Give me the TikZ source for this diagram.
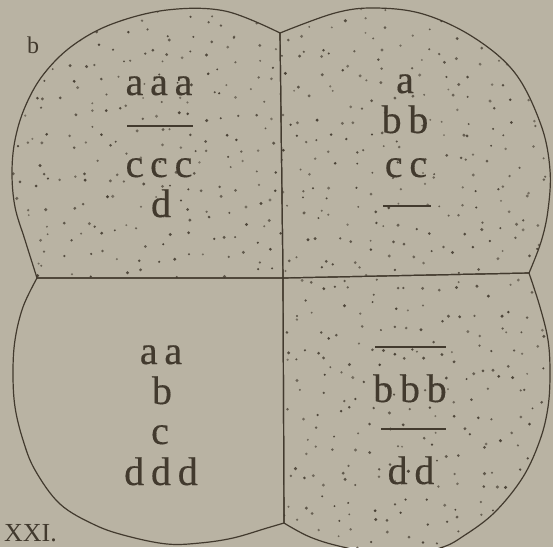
\documentclass[tikz,border=0pt]{standalone}
\usepackage{fontspec}
\setmainfont{Liberation Serif}
\newfontfamily\genefont[FakeBold=0.35]{Liberation Serif}
\definecolor{paper}{RGB}{185,179,163}
\definecolor{ink}{RGB}{66,58,46}
\definecolor{speck}{RGB}{72,64,52}
\newcommand\gk{\kern0.17em}
% jittered specks on a grid from the corner (#1,#2)
\newcommand\stipple[2]{%
  \foreach \i in {0,...,15}{
    \foreach \j in {0,...,16}{
      \pgfmathsetmacro\px{#1+\i*17.5+rnd*17.5}
      \pgfmathsetmacro\py{#2+\j*17.5+rnd*17.5}
      \pgfmathsetmacro\pr{1.0+0.7*rnd}
      \pgfmathsetmacro\po{0.55+0.45*rnd}
      \fill[speck,fill opacity=\po] (\px,\py) circle (\pr pt);
    }}}

\begin{document}
\begin{tikzpicture}[x=1pt,y=-1pt,
  wall/.style={draw=ink,line width=1.2pt,line join=round},
  bar/.style={draw=ink,line width=1.4pt},
  gene/.style={font=\genefont\fontsize{40}{40}\selectfont,text=ink,inner sep=0pt,anchor=base},
  caption/.style={text=ink,inner sep=0pt,anchor=base west}]
  \fill[paper] (0,0) rectangle (553,547);
  \useasboundingbox (0,0) rectangle (553,547);
  \clip (0,0) rectangle (553,547);
  \pgfmathsetseed{4711}

  % cell junctions
  \coordinate (T) at (280,33);
  \coordinate (L) at (37,278);
  \coordinate (C) at (283,278);
  \coordinate (R) at (529,273);
  \coordinate (B) at (284,523);

  % the four cells
  \path[save path=\cellTL] plot[smooth,tension=0.6] coordinates {(37,278) (25,240) (15,207) (12,173) (15,140) (25,107) (43,75) (72,46) (112,24) (167,10) (225,11) (280,33)} -- (C) -- cycle;
  \path[save path=\cellTR] plot[smooth,tension=0.6] coordinates {(280,33) (335,13) (375,8) (423,14) (473,37) (515,73) (541,125) (550,170) (548,210) (541,242) (529,273)} -- (C) -- cycle;
  \path[save path=\cellLR] plot[smooth,tension=0.6] coordinates {(529,273) (540,307) (548,340) (550,373) (548,407) (540,440) (523,477) (495,512) (465,535) (440,548) (395,556) (343,547) (310,537) (284,523)} -- (C) -- cycle;
  \path[save path=\cellLL] plot[smooth,tension=0.6] coordinates {(37,278) (23,307) (15,340) (13,373) (15,407) (23,440) (35,470) (60,504) (95,525) (127,536) (167,544) (200,543) (233,538) (267,528) (284,523)} -- (C) -- cycle;

  % stippled cells
  \begin{scope}
    \clip[use path=\cellTL];
    \stipple{6}{2}
  \end{scope}
  \begin{scope}
    \clip[use path=\cellTR];
    \stipple{274}{2}
  \end{scope}
  \begin{scope}
    \clip[use path=\cellLR];
    \stipple{276}{266}
  \end{scope}

  \draw[wall,use path=\cellTL];
  \draw[wall,use path=\cellTR];
  \draw[wall,use path=\cellLR];
  \draw[wall,use path=\cellLL];

  % upper left cell
  \node[gene] (tlA) at (159,95) {a\gk a\gk a};
  \draw[bar] (127,126) -- (193,126);
  \node[gene] (tlC) at (159,177) {c\gk c\gk c};
  \node[gene] (tlD) at (161,217) {d};
  % upper right cell
  \node[gene] (trA) at (405,93) {a};
  \node[gene] (trB) at (405,133) {b\gk b};
  \node[gene] (trC) at (406,177) {c\gk c};
  \draw[bar] (383,206) -- (431,206);
  % lower left cell
  \node[gene] (llA) at (161,364) {a\gk a};
  \node[gene] (llB) at (162,404) {b};
  \node[gene] (llC) at (160,444) {c};
  \node[gene] (llD) at (161,485) {d\gk d\gk d};
  % lower right cell
  \draw[bar] (375,347) -- (446,347);
  \node[gene] (lrB) at (410,402) {b\gk b\gk b};
  \draw[bar] (381,429) -- (446,429);
  \node[gene] (lrD) at (411,484) {d\gk d};

  % labels
  \node[caption,font=\fontsize{24}{24}\selectfont] (figB) at (27,53) {b};
  \node[caption,font=\fontsize{26}{26}\selectfont] (figNo) at (4,541) {XXI.};
\end{tikzpicture}
\end{document}
